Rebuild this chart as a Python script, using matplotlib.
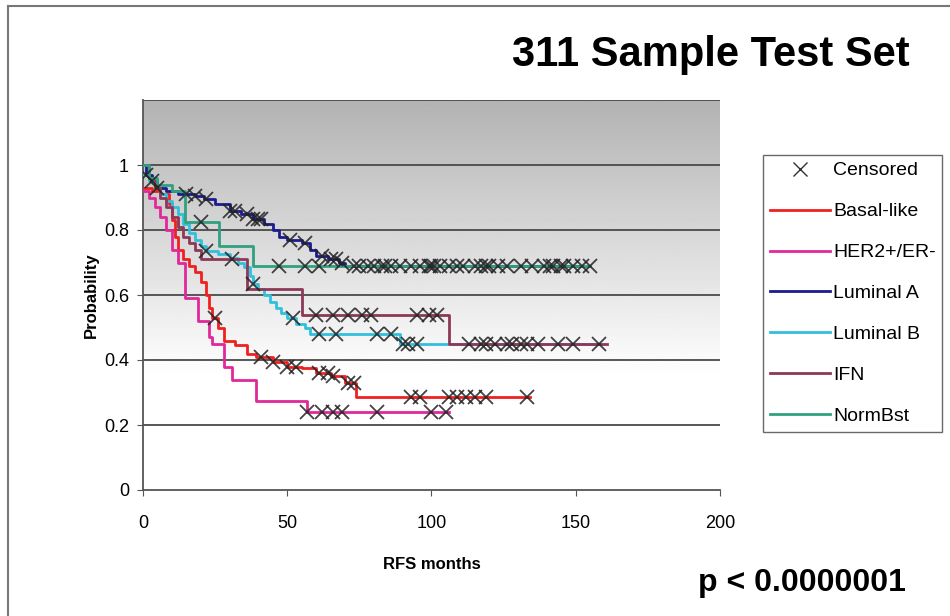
import numpy as np
import matplotlib.pyplot as plt
from matplotlib.lines import Line2D

# Kaplan-Meier step curves: (month, probability)
basal_t = [0, 3, 6, 9, 10, 11, 12, 14, 16, 18, 20, 22, 23, 24, 26, 28, 32, 36, 39, 45, 50, 55, 60, 65, 70, 74, 134]
basal_p = [0.93, 0.92, 0.91, 0.88, 0.83, 0.78, 0.74, 0.71, 0.69, 0.67, 0.64, 0.60, 0.56, 0.53, 0.50, 0.46, 0.445, 0.42, 0.41, 0.395, 0.38, 0.375, 0.36, 0.35, 0.33, 0.285, 0.285]

her2_t = [0, 2, 4, 6, 8, 10, 12, 14.6, 19, 23, 24, 28, 31, 39, 57, 106]
her2_p = [0.92, 0.90, 0.87, 0.84, 0.80, 0.74, 0.70, 0.59, 0.52, 0.47, 0.45, 0.38, 0.34, 0.275, 0.24, 0.24]

luma_t = [0, 1, 3, 5, 8, 12, 18, 21, 25, 30, 34, 38, 42, 45, 47, 50, 55, 58, 60, 64, 68, 70, 152]
luma_p = [1.0, 0.97, 0.95, 0.93, 0.92, 0.91, 0.905, 0.895, 0.88, 0.86, 0.85, 0.835, 0.82, 0.80, 0.78, 0.77, 0.76, 0.74, 0.72, 0.71, 0.70, 0.69, 0.69]

lumb_t = [0, 2, 4, 6, 8, 10, 12, 14, 16, 18, 20, 22, 26, 30, 33, 35, 37, 38, 40, 42, 44, 46, 48, 50, 53, 56, 58, 89, 158]
lumb_p = [0.97, 0.95, 0.93, 0.91, 0.89, 0.87, 0.85, 0.82, 0.79, 0.77, 0.75, 0.735, 0.725, 0.715, 0.70, 0.685, 0.66, 0.635, 0.62, 0.60, 0.58, 0.56, 0.545, 0.53, 0.51, 0.50, 0.48, 0.45, 0.45]

ifn_t = [0, 2, 4, 6, 8, 10, 12, 14, 16, 18, 20, 36, 55, 106, 161]
ifn_p = [1.0, 0.96, 0.93, 0.90, 0.87, 0.84, 0.81, 0.78, 0.76, 0.74, 0.71, 0.62, 0.54, 0.45, 0.45]

norm_t = [0, 2, 5, 10, 14.6, 26.5, 38, 155]
norm_p = [1.0, 0.96, 0.94, 0.92, 0.825, 0.75, 0.69, 0.69]

# censoring times per group
basal_c = [25, 41, 45, 50, 53, 61, 64, 66, 71, 73, 93, 96, 106, 109, 112, 115, 119, 133]
her2_c = [57, 62, 66, 69, 81, 100, 105]
luma_c = [1, 3, 5, 15, 18, 22, 30, 32, 36, 38, 40, 41, 51, 56, 62, 65, 67, 69, 73, 75, 78, 80, 83,
          86, 89, 93, 96, 99, 101, 103, 106, 109, 111, 115, 117, 119, 123, 126, 131, 135, 139, 142, 146, 149, 152]
lumb_c = [22, 38, 52, 61, 67, 81, 86, 90, 92, 95, 158]
ifn_c = [31, 60, 66, 71, 76, 79, 95, 99, 102, 113, 117, 119, 122, 126, 128, 131, 133, 137, 144, 149]
norm_c = [20, 47, 56, 61, 84, 100, 120, 141, 145, 155]

labels = ["Basal-like", "HER2+/ER-", "Luminal A", "Luminal B", "IFN", "NormBst"]
colors = ["#f02020", "#e0289a", "#1c1c8c", "#30c0dc", "#8c3858", "#30a080"]

groups = [(basal_t, basal_p, basal_c), (her2_t, her2_p, her2_c), (luma_t, luma_p, luma_c),
          (lumb_t, lumb_p, lumb_c), (ifn_t, ifn_p, ifn_c), (norm_t, norm_p, norm_c)]

plt.rcParams['font.family'] = ['Liberation Sans', 'DejaVu Sans']

fig = plt.figure(figsize=(9.5, 6.16), dpi=100)
ax = fig.add_axes([143 / 950, 1 - 490 / 616, 577 / 950, 390 / 616])

# grey gradient background, white below ~0.35
yy = np.linspace(0, 1.2, 300)
shade = np.clip((yy - 0.35) / 0.85, 0, 1)
grad = 1 - 0.30 * shade
ax.imshow(grad[:, None], extent=[0, 200, 0, 1.2], origin='lower', aspect='auto',
          cmap='gray', vmin=0, vmax=1, zorder=0)

for yv in [0.2, 0.4, 0.6, 0.8, 1.0, 1.2]:
    ax.axhline(yv, color='#4a4a4a', lw=1.3, zorder=1)

for (t, p, c), col, lab in zip(groups, colors, labels):
    ax.step(t, p, where='post', color=col, lw=2, zorder=3, label=lab)
    idx = np.searchsorted(t, c, side='right') - 1
    cy = np.array(p)[idx]
    ax.plot(c, cy, ls='none', marker='x', ms=10, mew=1.3, color='#222', alpha=0.85, zorder=4)

ax.set_xlim(0, 200)
ax.set_ylim(0, 1.2)
ax.set_xticks([0, 50, 100, 150, 200])
ax.set_yticks([0, 0.2, 0.4, 0.6, 0.8, 1.0])
ax.set_yticklabels(["0", "0.2", "0.4", "0.6", "0.8", "1"])
ax.tick_params(labelsize=13, length=4, color='#555')
ax.tick_params(axis='y', pad=6)
ax.tick_params(axis='x', pad=14)
for s in ['top', 'right']:
    ax.spines[s].set_visible(False)
for s in ['left', 'bottom']:
    ax.spines[s].set_color('#555')
    ax.spines[s].set_linewidth(1.3)
ax.set_xlabel("RFS months", fontsize=12, fontweight='bold', labelpad=18)
ax.set_ylabel("Probability", fontsize=12, fontweight='bold', labelpad=4)

handles = [Line2D([], [], ls='none', marker='x', ms=10, mew=1, color='#333')]
handles += [Line2D([], [], color=c, lw=2) for c in colors]
fig.legend(handles, ["Censored"] + labels, loc='upper left', bbox_to_anchor=(763 / 950, 1 - 155 / 616),
           fontsize=14, handlelength=3.1, labelspacing=1.2, handletextpad=0.15, borderpad=0.35,
           borderaxespad=0, frameon=True, fancybox=False, edgecolor='#444')

narrow = ['Liberation Sans Narrow', 'Liberation Sans', 'DejaVu Sans']
fig.text(910 / 950, 1 - 55 / 616, "311 Sample Test Set", ha='right', va='center',
         fontsize=30, fontweight='bold', family=narrow)
fig.text(906 / 950, 1 - 583 / 616, "p < 0.0000001", ha='right', va='center',
         fontsize=23, fontweight='bold', family=narrow)

# outer frame (left and top)
fig.add_artist(Line2D([8 / 950, 8 / 950], [0, 1 - 6 / 616], transform=fig.transFigure, color='#777', lw=1.5))
fig.add_artist(Line2D([8 / 950, 1], [1 - 6 / 616, 1 - 6 / 616], transform=fig.transFigure, color='#777', lw=1.5))

fig.savefig("out.png", dpi=100)
